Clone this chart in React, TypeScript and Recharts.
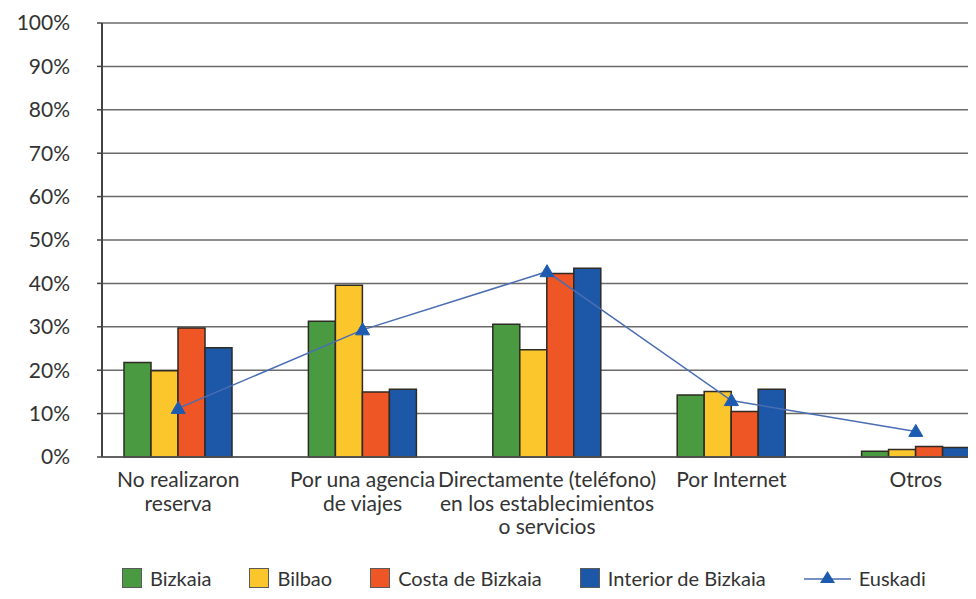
import React from "react";
import {
  ComposedChart,
  Bar,
  Line,
  XAxis,
  YAxis,
  CartesianGrid,
  Legend,
} from "recharts";

const categories = [
  "No realizaron\nreserva",
  "Por una agencia\nde viajes",
  "Directamente (teléfono)\nen los establecimientos\no servicios",
  "Por Internet",
  "Otros",
];

const bizkaia = [21.8, 31.3, 30.6, 14.3, 1.3];
const bilbao = [19.9, 39.6, 24.7, 15.1, 1.7];
const costa = [29.7, 15.0, 42.3, 10.5, 2.4];
const interior = [25.2, 15.6, 43.5, 15.6, 2.2];
const euskadi = [11.2, 29.3, 42.7, 13.0, 5.9];

const yTicks = [0, 10, 20, 30, 40, 50, 60, 70, 80, 90, 100];

const barSeries = [
  { key: "bizkaia", name: "Bizkaia", color: "#4a9a42" },
  { key: "bilbao", name: "Bilbao", color: "#fbc62b" },
  { key: "costa", name: "Costa de Bizkaia", color: "#ee5626" },
  { key: "interior", name: "Interior de Bizkaia", color: "#1d58a8" },
];

const data = categories.map((c, i) => ({
  cat: c,
  bizkaia: bizkaia[i],
  bilbao: bilbao[i],
  costa: costa[i],
  interior: interior[i],
  euskadi: euskadi[i],
}));

const FONT = "Lato, 'Open Sans', sans-serif";
const TEXT = "#333333";
const LINE_COLOR = "#4a6db3";
const MARKER = "#1d5bb0";

function CategoryTick(props: any) {
  const { x, y, payload } = props;
  const lines = String(payload.value).split("\n");
  return (
    <text x={x} y={y + 30} textAnchor="middle" fill={TEXT} fontSize={21} fontFamily={FONT}>
      {lines.map((l, i) => (
        <tspan key={i} x={x} dy={i === 0 ? 0 : 23.5}>
          {l}
        </tspan>
      ))}
    </text>
  );
}

function Triangle(props: any) {
  const { cx, cy } = props;
  if (cx == null || cy == null) return null;
  return (
    <polygon
      points={`${cx},${cy - 7} ${cx - 7},${cy + 5} ${cx + 7},${cy + 5}`}
      fill={MARKER}
      stroke={MARKER}
    />
  );
}

function LegendBox() {
  return (
    <div
      style={{
        display: "flex",
        alignItems: "center",
        height: 30,
        paddingLeft: 114,
        fontFamily: FONT,
        fontSize: 20,
        color: TEXT,
      }}
    >
      {barSeries.map((s) => (
        <div key={s.key} style={{ display: "flex", alignItems: "center", marginRight: 38 }}>
          <span
            style={{
              width: 18,
              height: 18,
              background: s.color,
              border: "1px solid #5a5a5a",
              marginRight: 8,
              display: "inline-block",
            }}
          />
          <span>{s.name}</span>
        </div>
      ))}
      <div style={{ display: "flex", alignItems: "center" }}>
        <svg width={47} height={20} style={{ marginRight: 8 }}>
          <line x1={0} y1={11} x2={47} y2={11} stroke={LINE_COLOR} strokeWidth={1.5} />
          <polygon points="23.5,3 16,15 31,15" fill={MARKER} />
        </svg>
        <span>Euskadi</span>
      </div>
    </div>
  );
}

export default function App() {
  return (
    <div style={{ width: 968, height: 591, background: "#fff" }}>
      <ComposedChart
        width={968}
        height={591}
        data={data}
        margin={{ top: 15, right: 0, left: 0, bottom: 6 }}
        barCategoryGap={38}
        barGap={0}
      >
        <CartesianGrid vertical={false} stroke="#6a6a6a" strokeWidth={1.5} />
        <XAxis
          dataKey="cat"
          interval={0}
          height={106}
          tickLine={false}
          tickSize={0}
          tickMargin={0}
          axisLine={{ stroke: "#555", strokeWidth: 1.5 }}
          padding={{ left: -16, right: -32 }}
          tick={<CategoryTick />}
        />
        <YAxis
          width={94}
          domain={[0, 100]}
          ticks={yTicks}
          interval={0}
          tickFormatter={(v) => `${v}%`}
          tickSize={5}
          tickMargin={27}
          tickLine={{ stroke: "#444", strokeWidth: 1.5 }}
          axisLine={{ stroke: "#444", strokeWidth: 2 }}
          tick={{ fontSize: 21, fill: TEXT, fontFamily: FONT }}
        />
        <Legend verticalAlign="bottom" content={() => <LegendBox />} />
        {barSeries.map((s) => (
          <Bar
            key={s.key}
            dataKey={s.key}
            name={s.name}
            fill={s.color}
            stroke="#2e2a24"
            strokeWidth={1.5}
            isAnimationActive={false}
          />
        ))}
        <Line
          dataKey="euskadi"
          name="Euskadi"
          stroke={LINE_COLOR}
          strokeWidth={1.5}
          dot={<Triangle />}
          activeDot={false}
          isAnimationActive={false}
        />
      </ComposedChart>
    </div>
  );
}
